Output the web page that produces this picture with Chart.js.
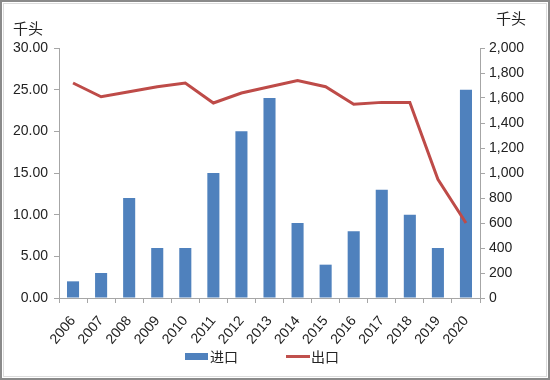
<!DOCTYPE html>
<html>
<head>
<meta charset="utf-8">
<script src="https://cdn.jsdelivr.net/npm/chart.js@4"></script>
<style>
html,body{margin:0;padding:0;background:#fff;}
#wrap{position:relative;width:550px;height:380px;overflow:hidden;background:#fff;}
#c{position:absolute;left:0;top:0;}
.frame{position:absolute;left:0;top:0;width:550px;height:380px;box-sizing:border-box;border:2px solid #8a8a8a;pointer-events:none;}
.frame2{position:absolute;left:3px;top:3px;width:544px;height:374px;box-sizing:border-box;border:1px solid #dcdcdc;pointer-events:none;}
.unit{position:absolute;font-family:"Noto Sans CJK SC";font-size:15px;color:#222;line-height:1;}
.leg{position:absolute;font-family:"Noto Sans CJK SC";font-size:14px;color:#222;line-height:1;}
.sw{position:absolute;}
</style>
</head>
<body>
<div id="wrap">
<canvas id="c" width="550" height="380"></canvas>
<div class="frame"></div>
<div class="frame2"></div>
<div class="unit" style="left:13px;top:20px;">千头</div>
<div class="unit" style="left:496px;top:10px;">千头</div>
<div class="sw" style="left:185px;top:353px;width:23px;height:7px;background:#4F81BD;"></div>
<div class="leg" style="left:210px;top:349px;">进口</div>
<div class="sw" style="left:286px;top:355px;width:24px;height:3px;background:#C0504D;"></div>
<div class="leg" style="left:311px;top:349px;">出口</div>
</div>
<script>
const categories = ["2006","2007","2008","2009","2010","2011","2012","2013","2014","2015","2016","2017","2018","2019","2020"];
const importValues = [2, 3, 12, 6, 6, 15, 20, 24, 9, 4, 8, 13, 10, 6, 25];
const exportValues = [1720, 1610, 1650, 1690, 1720, 1560, 1640, 1690, 1740, 1690, 1550, 1565, 1565, 950, 600];
const leftTicks = [0, 5, 10, 15, 20, 25, 30];
const rightTicks = [0, 200, 400, 600, 800, 1000, 1200, 1400, 1600, 1800, 2000];

const tickFont = {family: "'Liberation Sans Narrow','Liberation Sans',Arial", size: 14};
const axisColor = '#a6a6a6';

new Chart(document.getElementById('c'), {
  data: {
    labels: categories,
    datasets: [
      {type: 'line', label: '出口', data: exportValues, yAxisID: 'y2',
       borderColor: '#BE4B48', borderWidth: 3, pointRadius: 0, tension: 0, order: 0},
      {type: 'bar', label: '进口', data: importValues, yAxisID: 'y',
       backgroundColor: '#4F81BD', barPercentage: 0.43, categoryPercentage: 1, order: 1}
    ]
  },
  options: {
    responsive: false,
    animation: false,
    layout: {padding: {top: 48, left: 0, right: 0, bottom: 0}},
    plugins: {legend: {display: false}, tooltip: {enabled: false}},
    scales: {
      x: {
        afterFit: s => { s.height = 82; },
        grid: {display: true, drawOnChartArea: false, drawTicks: true, tickLength: 5, color: axisColor, offset: true},
        border: {display: true, color: axisColor},
        ticks: {font: tickFont, color: '#222', minRotation: 50, maxRotation: 50, padding: 10, autoSkip: false}
      },
      y: {
        position: 'left', min: 0, max: 30,
        afterFit: s => { s.width = 59; },
        afterBuildTicks: s => { s.ticks = leftTicks.map(v => ({value: v})); },
        grid: {display: true, drawOnChartArea: false, drawTicks: true, tickLength: 5, color: axisColor},
        border: {display: true, color: axisColor},
        ticks: {font: tickFont, color: '#222', padding: 6, callback: v => v.toFixed(2)}
      },
      y2: {
        position: 'right', min: 0, max: 2000,
        afterFit: s => { s.width = 70; },
        afterBuildTicks: s => { s.ticks = rightTicks.map(v => ({value: v})); },
        grid: {display: true, drawOnChartArea: false, drawTicks: true, tickLength: 5, color: axisColor},
        border: {display: true, color: axisColor},
        ticks: {font: tickFont, color: '#222', padding: 4, callback: v => v.toLocaleString('en-US')}
      }
    }
  }
});
</script>
</body>
</html>
